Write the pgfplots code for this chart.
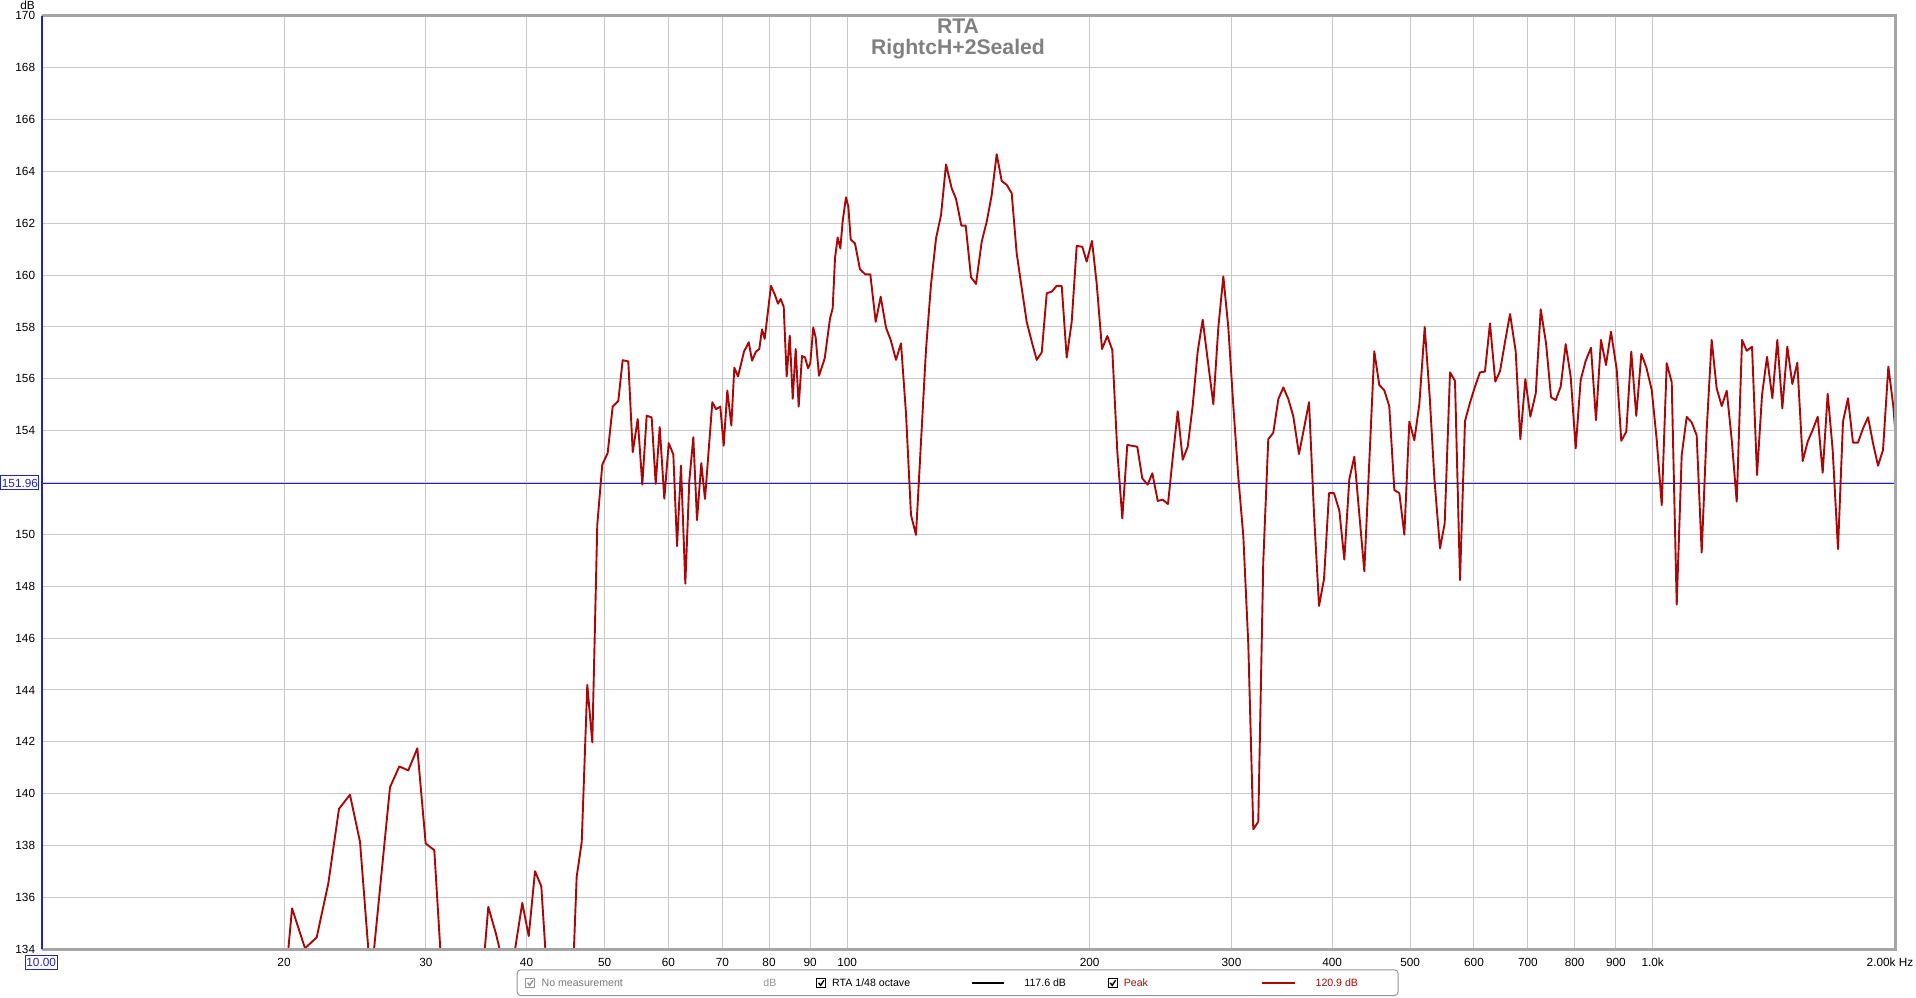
\documentclass[border=0pt]{standalone}
\usepackage{fontspec}
\setmainfont{Liberation Sans}
\usepackage{pgfplots}
\usepackage{pgfplotstable}
\pgfplotsset{compat=1.18}
\definecolor{gridgray}{RGB}{200,200,200}
\definecolor{framegray}{RGB}{165,165,165}
\definecolor{axisblue}{RGB}{35,35,190}
\definecolor{curvered}{RGB}{170,8,8}
\definecolor{titlegray}{RGB}{128,128,128}
\definecolor{legendgray}{RGB}{150,150,150}
\definecolor{textgray}{RGB}{120,120,120}
\newcommand{\tickfont}{\fontsize{5.9pt}{7pt}\selectfont}
\newcommand{\legfont}{\fontsize{5.3pt}{6.3pt}\selectfont}

% x = log10(frequency in Hz), y = level in dB
\pgfplotstableread{
x y
1.2900 128.00
1.3064 134.00
1.3110 135.58
1.3271 134.04
1.3416 134.46
1.3560 136.54
1.3693 139.42
1.3829 139.96
1.3954 138.14
1.4088 132.75
1.4326 140.25
1.4441 141.05
1.4553 140.90
1.4665 141.75
1.4769 138.08
1.4876 137.82
1.5009 131.00
1.5344 128.00
1.5546 135.64
1.5642 134.59
1.5803 132.50
1.5968 135.79
1.6048 134.51
1.6126 137.01
1.6204 136.43
1.6337 130.00
1.6560 130.00
1.6643 136.79
1.6706 138.14
1.6775 144.20
1.6837 141.98
1.6899 150.38
1.6961 152.69
1.7028 153.14
1.7090 154.93
1.7160 155.15
1.7214 156.72
1.7284 156.67
1.7339 153.17
1.7401 154.45
1.7458 151.92
1.7512 154.58
1.7574 154.51
1.7624 151.95
1.7674 154.14
1.7731 151.38
1.7786 153.52
1.7843 153.08
1.7889 149.55
1.7938 152.65
1.7992 148.10
1.8041 152.05
1.8091 153.75
1.8137 150.55
1.8190 152.75
1.8236 151.37
1.8327 155.10
1.8373 154.83
1.8426 154.93
1.8468 153.42
1.8513 155.55
1.8563 154.20
1.8600 156.43
1.8646 156.09
1.8720 157.05
1.8779 157.41
1.8820 156.70
1.8869 157.05
1.8910 157.15
1.8944 157.91
1.8977 157.54
1.9055 159.59
1.9105 159.23
1.9142 158.90
1.9176 159.08
1.9213 158.78
1.9250 156.09
1.9288 157.67
1.9325 155.23
1.9362 157.15
1.9399 154.93
1.9440 156.88
1.9477 156.83
1.9515 156.41
1.9543 156.60
1.9580 157.98
1.9610 157.59
1.9651 156.12
1.9722 156.79
1.9788 158.33
1.9821 158.72
1.9850 160.66
1.9883 161.45
1.9916 161.03
1.9945 162.08
1.9986 163.00
2.0015 162.65
2.0045 161.37
2.0098 161.22
2.0160 160.22
2.0226 160.03
2.0288 160.03
2.0355 158.20
2.0417 159.17
2.0483 157.97
2.0541 157.50
2.0607 156.73
2.0669 157.37
2.0731 154.67
2.0793 150.75
2.0855 149.98
2.0914 153.38
2.0979 157.11
2.1041 159.62
2.1104 161.42
2.1166 162.32
2.1228 164.27
2.1298 163.35
2.1352 162.94
2.1418 161.91
2.1472 161.91
2.1538 159.92
2.1600 159.66
2.1671 161.29
2.1733 162.06
2.1795 163.09
2.1857 164.66
2.1919 163.63
2.1981 163.48
2.2043 163.16
2.2105 160.84
2.2171 159.43
2.2229 158.20
2.2292 157.43
2.2354 156.73
2.2416 157.02
2.2478 159.30
2.2540 159.36
2.2602 159.59
2.2664 159.58
2.2726 156.82
2.2788 158.20
2.2850 161.13
2.2920 161.09
2.2974 160.52
2.3040 161.32
2.3098 159.68
2.3164 157.15
2.3230 157.65
2.3292 157.11
2.3354 153.20
2.3416 150.62
2.3478 153.45
2.3602 153.38
2.3664 152.16
2.3731 151.92
2.3789 152.36
2.3856 151.29
2.3918 151.34
2.3983 151.17
2.4042 152.96
2.4104 154.75
2.4166 152.88
2.4228 153.38
2.4290 154.97
2.4352 157.06
2.4414 158.28
2.4480 156.64
2.4546 155.02
2.4608 157.98
2.4670 159.95
2.4732 157.98
2.4794 154.97
2.4856 152.21
2.4918 149.95
2.4980 145.77
2.5042 138.63
2.5104 138.92
2.5166 148.95
2.5228 153.67
2.5290 153.92
2.5353 155.22
2.5415 155.67
2.5477 155.22
2.5539 154.55
2.5609 153.10
2.5672 154.10
2.5734 155.10
2.5796 150.78
2.5858 147.24
2.5920 148.28
2.5982 151.59
2.6044 151.59
2.6110 150.92
2.6172 149.03
2.6234 152.13
2.6296 153.00
2.6358 150.78
2.6420 148.58
2.6482 152.80
2.6544 157.06
2.6606 155.76
2.6668 155.56
2.6730 154.94
2.6793 151.71
2.6855 151.59
2.6917 149.99
2.6979 154.35
2.7041 153.63
2.7103 155.02
2.7170 158.00
2.7232 155.30
2.7291 152.10
2.7360 149.46
2.7418 150.43
2.7484 156.25
2.7546 155.92
2.7608 148.24
2.7670 154.37
2.7732 155.08
2.7794 155.70
2.7856 156.25
2.7918 156.28
2.7980 158.14
2.8046 155.89
2.8105 156.30
2.8167 157.43
2.8229 158.50
2.8299 157.07
2.8357 153.67
2.8419 155.99
2.8481 154.54
2.8548 155.44
2.8610 158.68
2.8676 157.37
2.8738 155.29
2.8796 155.18
2.8858 155.70
2.8920 157.34
2.8982 156.08
2.9044 153.32
2.9106 155.96
2.9168 156.69
2.9234 157.20
2.9296 154.41
2.9358 157.50
2.9420 156.53
2.9482 157.82
2.9553 156.37
2.9610 153.61
2.9672 153.96
2.9734 157.05
2.9796 154.57
2.9859 156.96
2.9921 156.44
2.9988 155.57
3.0050 153.64
3.0112 151.13
3.0174 156.60
3.0236 155.87
3.0298 147.29
3.0360 153.06
3.0422 154.53
3.0484 154.32
3.0546 153.82
3.0608 149.30
3.0670 154.03
3.0732 157.50
3.0794 155.63
3.0857 154.95
3.0919 155.54
3.0981 153.64
3.1043 151.26
3.1109 157.50
3.1167 157.08
3.1233 157.24
3.1295 152.29
3.1357 155.38
3.1419 156.85
3.1485 155.25
3.1547 157.50
3.1609 154.86
3.1671 157.24
3.1733 155.80
3.1795 156.62
3.1862 152.83
3.1924 153.58
3.1986 154.03
3.2048 154.54
3.2110 152.38
3.2172 155.42
3.2234 153.26
3.2300 149.43
3.2362 154.35
3.2424 155.25
3.2486 153.54
3.2548 153.54
3.2611 154.09
3.2673 154.52
3.2735 153.51
3.2797 152.65
3.2859 153.26
3.2925 156.47
3.2987 154.93
3.3020 153.64
}\peakdata

\newcommand{\checkbox}[3]{%
  \draw[#3, line width=0.4pt, fill=white] (#1,#2) rectangle ++(4.4pt,4.4pt);
  \draw[#3, line width=0.7pt] ($(#1,#2)+(0.9pt,2.4pt)$) -- ($(#1,#2)+(1.9pt,1.1pt)$) -- ($(#1,#2)+(3.6pt,3.7pt)$);
}
\usetikzlibrary{calc}

\begin{document}
\begin{tikzpicture}
\useasboundingbox (0,0) rectangle (958pt,498.5pt);
\fill[white] (0,0) rectangle (958pt,498.5pt);
\begin{axis}[
  name=main,
  at={(20.75pt,23.85pt)}, anchor=south west,
  scale only axis, width=926.85pt, height=466.75pt,
  xmin=1, xmax=3.30103, ymin=134, ymax=170,
  xtick={1,1.30103,1.47712,1.60206,1.69897,1.77815,1.84510,1.90309,1.95424,2,2.30103,2.47712,2.60206,2.69897,2.77815,2.84510,2.90309,2.95424,3},
  xticklabels={,20,30,40,50,60,70,80,90,100,200,300,400,500,600,700,800,900,1.0k},
  extra x ticks={3.30103},
  extra x tick labels={2.00k Hz},
  extra x tick style={grid=major, xticklabel style={xshift=-2.6pt}},
  ytick={134,136,138,140,142,144,146,148,150,152,154,156,158,160,162,164,166,168,170},
  yticklabels={134,136,138,140,142,144,146,148,150,,154,156,158,160,162,164,166,168,170},
  grid=major,
  major grid style={draw=gridgray, line width=0.5pt},
  axis line style={draw=none},
  tick style={draw=none},
  xticklabel style={font=\tickfont, anchor=north, inner sep=0pt, yshift=-4.3pt},
  yticklabel style={font=\tickfont, anchor=east, inner sep=0pt, xshift=-3pt},
]
\addplot[axisblue, line width=0.55pt, forget plot] coordinates {(1,151.96) (3.30103,151.96)};
\addplot[curvered, line width=0.95pt, line join=round] table[x=x, y=y] {\peakdata};
\end{axis}
% frame
\draw[framegray, line width=1.4pt] (main.north west) -- (main.north east) -- (main.south east) -- (main.south west);
\draw[axisblue, line width=1pt] (main.south west) -- (main.north west);
% title
\node[anchor=base, inner sep=0pt, text=titlegray, font=\bfseries\fontsize{10.6pt}{12pt}\selectfont] at (479pt,481.6pt) {RTA};
\node[anchor=base, inner sep=0pt, text=titlegray, font=\bfseries\fontsize{10.6pt}{12pt}\selectfont] at (479pt,471pt) {RightcH+2Sealed};
% unit label
\node[anchor=base east, inner sep=0pt, font=\tickfont] at (17.6pt,493.6pt) {dB};
% cursor boxes
\node[draw=axisblue, fill=white, text=axisblue, font=\tickfont, inner sep=0.6pt, minimum height=7pt, line width=0.5pt] at (20.6pt,17.1pt) {10.00};
\node[draw=axisblue, fill=white, text=axisblue, font=\tickfont, anchor=west, inner sep=0.5pt, minimum height=7pt, line width=0.5pt] at (0.2pt,257pt) {151.96};
% legend
\draw[legendgray, line width=0.5pt, rounded corners=1.8pt] (258.6pt,0.7pt) rectangle (699pt,13.6pt);
\checkbox{262.9pt}{4.7pt}{legendgray}
\node[anchor=base west, inner sep=0pt, font=\legfont, text=textgray] at (270.6pt,5.2pt) {No measurement};
\node[anchor=base west, inner sep=0pt, font=\legfont, text=legendgray] at (381.5pt,5.2pt) {dB};
\checkbox{408.4pt}{4.7pt}{black}
\node[anchor=base west, inner sep=0pt, font=\legfont] at (415.9pt,5.2pt) {RTA 1/48 octave};
\draw[black, line width=1pt] (486pt,7.1pt) -- (502pt,7.1pt);
\node[anchor=base west, inner sep=0pt, font=\legfont] at (512pt,5.2pt) {117.6 dB};
\checkbox{554.2pt}{4.7pt}{black}
\node[anchor=base west, inner sep=0pt, font=\legfont, text=curvered] at (561.7pt,5.2pt) {Peak};
\draw[curvered, line width=1pt] (631.2pt,7.1pt) -- (647.5pt,7.1pt);
\node[anchor=base west, inner sep=0pt, font=\legfont, text=curvered] at (657.6pt,5.2pt) {120.9 dB};
\end{tikzpicture}
\end{document}
